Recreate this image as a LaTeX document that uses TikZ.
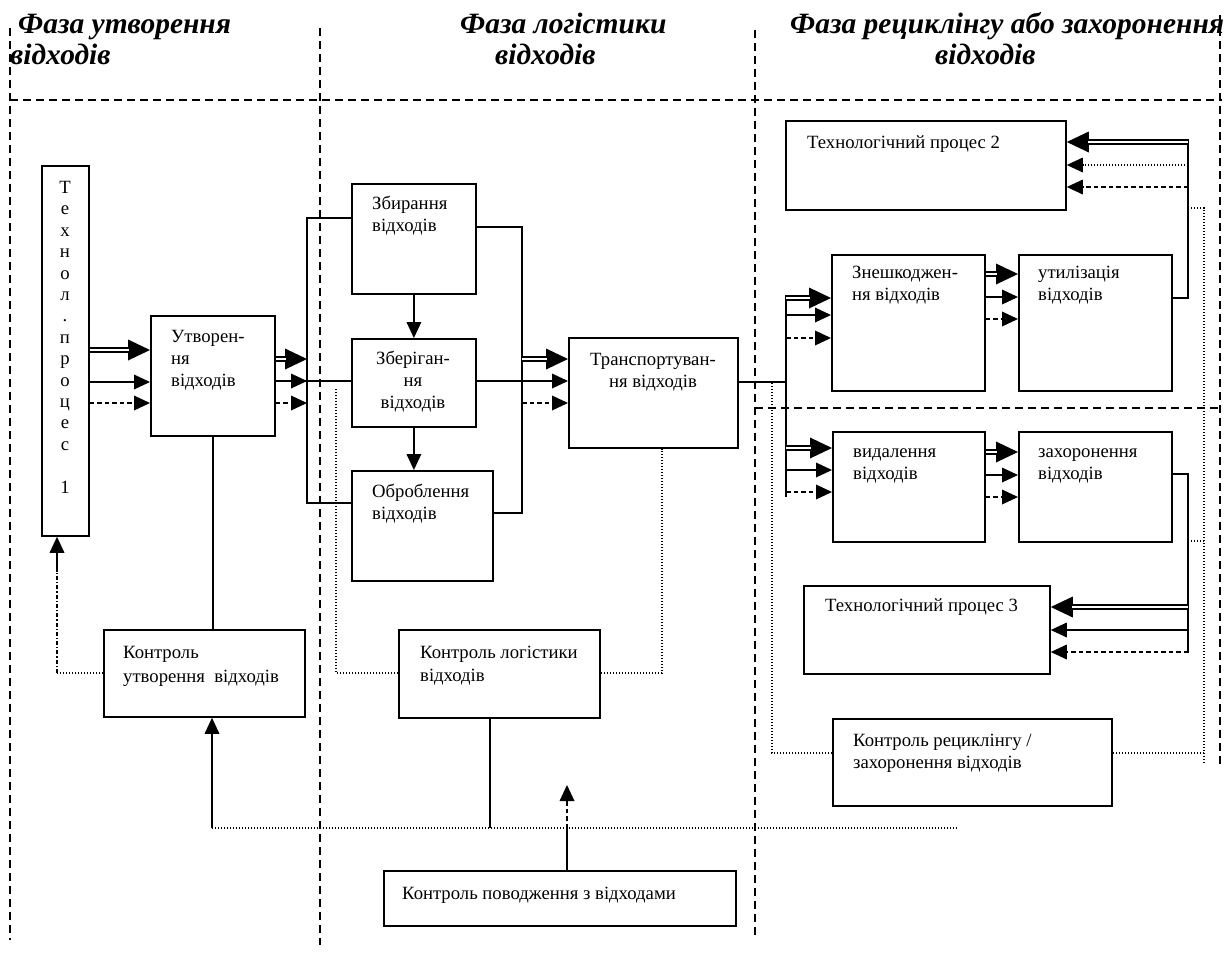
\documentclass[tikz,border=0pt]{standalone}
\usepackage{fontspec}
\setmainfont{Liberation Serif}
\usetikzlibrary{arrows.meta,calc}
\tikzset{
 box/.style={draw, line width=1.8pt, inner sep=0pt, anchor=north west},
 txt/.style={inner sep=0pt, anchor=base west, font=\fontsize{18.7}{22}\selectfont},
 ctxt/.style={inner sep=0pt, anchor=base, font=\fontsize{18.7}{22}\selectfont},
 hdr/.style={inner sep=0pt, anchor=base west, font=\fontsize{29.5}{31}\selectfont\bfseries\itshape},
 conn/.style={line width=1.8pt},
 sarr/.style={line width=1.8pt, -{Triangle[length=16pt,width=15pt,line width=0pt]}},
 darr/.style={line width=1.2pt, dash pattern=on 4.5pt off 3pt, -{Triangle[length=16pt,width=15pt,line width=0pt]}},
 oarr/.style={line width=1.3pt, dash pattern=on 1.3pt off 1.7pt, -{Triangle[length=16pt,width=15pt,line width=0pt]}},
 dotl/.style={line width=1.3pt, dash pattern=on 1.3pt off 1.7pt},
 ddl/.style={line width=1.3pt, dash pattern=on 4pt off 2pt on 1.3pt off 2pt},
 phase/.style={line width=1.6pt, dash pattern=on 8pt off 5pt},
 dblo/.style={line width=6.5pt, -{Triangle[length=22pt,width=21pt,line width=0pt]}},
 dbli/.style={white, line width=2pt, shorten >=21pt},
}
\newcommand\dblarrow[2]{\draw[dblo] #1 -- #2; \draw[dbli] #1 -- #2;}
\begin{document}
\begin{tikzpicture}[x=1pt,y=-1pt]
\useasboundingbox (0,0) rectangle (1231,954);
\fill[white] (0,0) rectangle (1231,954);

% phase boundaries
\draw[phase] (10,100) -- (1222,100);
\draw[phase] (10,28) -- (10,940);
\draw[phase] (320,28) -- (320,945);
\draw[phase] (755,30) -- (755,935);
\draw[phase] (1220,15) -- (1220,765);
\draw[phase] (755,408) -- (1220,408);

% headers
\node[hdr] (h1a) at (18,33) {Фаза утворення};
\node[hdr] (h1b) at (10,64) {відходів};
\node[hdr] (h2a) at (460,33) {Фаза логістики};
\node[hdr] (h2b) at (495,64) {відходів};
\node[hdr] (h3a) at (790,33) {Фаза рециклінгу або захоронення};
\node[hdr] (h3b) at (935,64) {відходів};

% boxes
\node[box, minimum width=47pt, minimum height=370pt] (tp1) at (41,165) {};
\node[box, minimum width=124pt, minimum height=120pt] (utv) at (150,315) {};
\node[box, minimum width=124pt, minimum height=110pt] (zbyr) at (351,183) {};
\node[box, minimum width=124pt, minimum height=88pt] (zber) at (351,338) {};
\node[box, minimum width=141pt, minimum height=110pt] (obr) at (351,470) {};
\node[box, minimum width=169pt, minimum height=110pt] (trans) at (568,337) {};
\node[box, minimum width=280pt, minimum height=89pt] (tp2) at (785,120) {};
\node[box, minimum width=153pt, minimum height=136pt] (znesh) at (831,254) {};
\node[box, minimum width=153pt, minimum height=136pt] (util) at (1018,254) {};
\node[box, minimum width=152pt, minimum height=110pt] (vyd) at (832,431) {};
\node[box, minimum width=153pt, minimum height=110pt] (zakh) at (1018,431) {};
\node[box, minimum width=246pt, minimum height=88pt] (tp3) at (803,585) {};
\node[box, minimum width=201pt, minimum height=87pt] (kutv) at (103,629) {};
\node[box, minimum width=201pt, minimum height=88pt] (klog) at (398,629) {};
\node[box, minimum width=279pt, minimum height=87pt] (krec) at (832,718) {};
\node[box, minimum width=352pt, minimum height=55pt] (kpov) at (383,870) {};

% box texts
\node[inner sep=0pt, anchor=north, align=center, font=\fontsize{18.7}{21.4}\selectfont] (tp1t) at (65,181)
  {Т\\е\\х\\н\\о\\л\\.\\п\\р\\о\\ц\\е\\с\\\mbox{}\\1};
\node[txt] (utv1) at (171,342) {Утворен-};
\node[txt] (utv2) at (171,364) {ня};
\node[txt] (utv3) at (171,386) {відходів};
\node[txt] (zbyr1) at (372,209) {Збирання};
\node[txt] (zbyr2) at (372,231) {відходів};
\node[ctxt] (zber1) at (413,364) {Зберіган-};
\node[ctxt] (zber2) at (413,386) {ня};
\node[ctxt] (zber3) at (413,408) {відходів};
\node[txt] (obr1) at (372,497) {Оброблення};
\node[txt] (obr2) at (372,519) {відходів};
\node[ctxt] (tr1) at (653,365) {Транспортуван-};
\node[ctxt] (tr2) at (653,387) {ня відходів};
\node[txt] (tp2t) at (807,148) {Технологічний процес 2};
\node[txt] (zn1) at (852,278) {Знешкоджен-};
\node[txt] (zn2) at (852,300) {ня відходів};
\node[txt] (ut1) at (1038,278) {утилізація};
\node[txt] (ut2) at (1038,300) {відходів};
\node[txt] (vd1) at (853,457) {видалення};
\node[txt] (vd2) at (853,479) {відходів};
\node[txt] (zk1) at (1038,457) {захоронення};
\node[txt] (zk2) at (1038,479) {відходів};
\node[txt] (tp3t) at (825,611) {Технологічний процес 3};
\node[txt] (ku1) at (123,658) {Контроль};
\node[txt] (ku2) at (123,682) {утворення\ \ відходів};
\node[txt] (kl1) at (420,658) {Контроль логістики};
\node[txt] (kl2) at (420,681) {відходів};
\node[txt] (kr1) at (853,746) {Контроль рециклінгу /};
\node[txt] (kr2) at (853,768) {захоронення відходів};
\node[txt] (kp1) at (402,899) {Контроль поводження з відходами};

% tp1 -> utv
\dblarrow{(tp1.east |- 0,350)}{(utv.west |- 0,350)}
\draw[sarr] (tp1.east |- 0,382) -- (utv.west |- 0,382);
\draw[darr] (tp1.east |- 0,403) -- (utv.west |- 0,403);

% left bracket
\coordinate (bL) at (307,218);
\coordinate (bL2) at (307,503);
\draw[conn] (zbyr.west |- bL) -- (bL) -- (bL2) -- (obr.west |- bL2);
\dblarrow{(utv.east |- 0,359)}{(bL |- 0,359)}
\draw[conn] (utv.east |- 0,381) -- (zber.west |- 0,381);
\draw[sarr] (utv.east |- 0,381) -- (bL |- 0,381);
\draw[darr] (utv.east |- 0,403) -- (bL |- 0,403);

% vertical chain
\draw[sarr] (zbyr.south) -- (zber.north);
\draw[sarr] (zber.south) -- (zber.south |- obr.north);

% right bracket
\coordinate (bR) at (522,227);
\coordinate (bR2) at (522,513);
\draw[conn] (zbyr.east |- bR) -- (bR) -- (bR2) -- (obr.east |- bR2);
\dblarrow{(bR |- 0,359)}{(trans.west |- 0,359)}
\draw[sarr] (zber.east |- 0,381) -- (trans.west |- 0,381);
\draw[darr] (bR |- 0,403) -- (trans.west |- 0,403);

% transport -> branches
\coordinate (vT) at (786,295);
\coordinate (vB) at (786,497);
\draw[conn] (vT) -- (vB);
\draw[conn] (trans.east |- 0,382) -- (vT |- 0,382);
\dblarrow{(vT |- 0,298)}{(znesh.west |- 0,298)}
\draw[sarr] (vT |- 0,315) -- (znesh.west |- 0,315);
\draw[darr] (vT |- 0,338) -- (znesh.west |- 0,338);
\dblarrow{(vT |- 0,448)}{(vyd.west |- 0,448)}
\draw[sarr] (vT |- 0,470) -- (vyd.west |- 0,470);
\draw[darr] (vT |- 0,492) -- (vyd.west |- 0,492);

% znesh -> util, vyd -> zakh
\dblarrow{(znesh.east |- 0,274)}{(util.west |- 0,274)}
\draw[sarr] (znesh.east |- 0,297) -- (util.west |- 0,297);
\draw[darr] (znesh.east |- 0,319) -- (util.west |- 0,319);
\dblarrow{(vyd.east |- 0,452)}{(zakh.west |- 0,452)}
\draw[sarr] (vyd.east |- 0,475) -- (zakh.west |- 0,475);
\draw[darr] (vyd.east |- 0,497) -- (zakh.west |- 0,497);

% util -> tp2
\coordinate (rU) at (1188,139);
\draw[conn] (util.east |- 0,298) -- (rU |- 0,298) -- (rU);
\dblarrow{(rU |- 0,142)}{(tp2.east |- 0,142)}
\draw[oarr] (rU |- 0,165) -- (tp2.east |- 0,165);
\draw[darr] (rU |- 0,187) -- (tp2.east |- 0,187);

% zakh -> tp3
\coordinate (rD) at (1188,653);
\draw[conn] (zakh.east |- 0,474) -- (rD |- 0,474) -- (rD);
\dblarrow{(rD |- 0,607)}{(tp3.east |- 0,607)}
\draw[sarr] (rD |- 0,630) -- (tp3.east |- 0,630);
\draw[darr] (rD |- 0,652) -- (tp3.east |- 0,652);

% recycling control loop (dotted)
\coordinate (dR) at (1204,208);
\coordinate (dRb) at (1204,763);
\draw[dotl] (rU |- dR) -- (dR) -- (dRb);
\draw[dotl] (rD |- 0,541) -- (dRb |- 0,541);
\draw[dotl] (krec.east |- 0,753) -- (dRb |- 0,753);
\coordinate (dL) at (772,382);
\draw[dotl] (krec.west |- 0,753) -- (dL |- 0,753) -- (dL);

% logistics control loop
\coordinate (lgL) at (336,388);
\draw[dotl] (klog.west |- 0,673) -- (lgL |- 0,673) -- (lgL);
\coordinate (lgR) at (662,673);
\draw[dotl] (klog.east |- lgR) -- (lgR) -- (lgR |- trans.south);

% generation control
\draw[conn] (utv.south) -- (utv.south |- kutv.north);
\coordinate (kl) at (57,673);
\draw[dotl] (kutv.west |- kl) -- (kl);
\draw[ddl] (kl) -- (kl |- 0,570);
\draw[sarr] (kl |- 0,572) -- (kl |- tp1.south);

% bottom management control
\coordinate (hl) at (212,828);
\coordinate (hr) at (958,828);
\draw[dotl] (hl) -- (hr);
\draw[sarr] (hl) -- (hl |- kutv.south);
\coordinate (lgB) at (490,828);
\draw[conn] (lgB |- klog.south) -- (lgB);
\coordinate (pv) at (567,828);
\coordinate (pvT) at (567,785);
\draw[conn] (pv |- kpov.north) -- (pv);
\draw[darr] (pv) -- (pvT);
\end{tikzpicture}
\end{document}
